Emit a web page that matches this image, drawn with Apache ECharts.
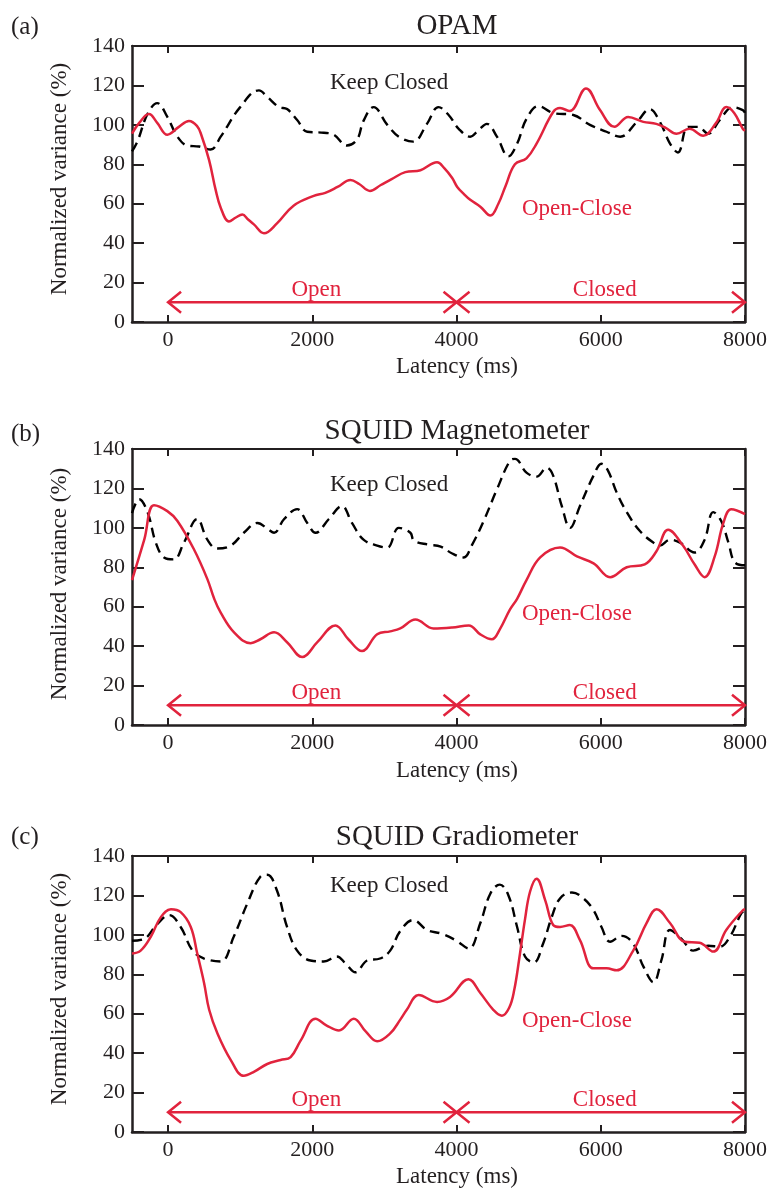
<!DOCTYPE html>
<html>
<head>
<meta charset="utf-8">
<script src="https://cdn.jsdelivr.net/npm/echarts@6/dist/echarts.min.js"></script>
<style>
html,body{margin:0;padding:0;background:#fff;}
#chart{width:772px;height:1189px;}
</style>
</head>
<body>
<div id="chart"></div>
<script>
// ---------- data ----------
const panelLabels = ['(a)', '(b)', '(c)'];
const panelTitles = ['OPAM', 'SQUID Magnetometer', 'SQUID Gradiometer'];
const xTickValues = [0, 2000, 4000, 6000, 8000];
const xAxisName = 'Latency (ms)';
const yAxisName = 'Normalized variance (%)';
const keepLabel = 'Keep Closed';
const diffLabel = 'Open-Close';
const arrowStarts = [0, 4000];
const arrowEnds = [4000, 8000];
const arrowLabels = ['Open', 'Closed'];
const arrowLevel = 10;

// (a) OPAM
const opamKeepClosed = [[-500,86.5],[-420,92],[-285,105.5],[-150,111],[-10,104],[130,94],[270,89.5],[430,89],[590,87.5],[730,94],[1000,109],[1260,117.5],[1380,114],[1540,109],[1650,108],[1790,102.5],[1930,96.5],[2160,96],[2300,95],[2480,89.5],[2620,92.5],[2710,102],[2850,109],[3040,100],[3200,94],[3400,91.5],[3590,100.5],[3750,109],[3890,105],[4030,98],[4190,94],[4310,97.5],[4420,100.5],[4560,94],[4720,84],[4840,90.5],[4970,103],[5135,109.5],[5340,106],[5620,105],[5850,100],[6080,96.5],[6270,94],[6500,101.5],[6680,108],[6820,101.5],[6960,90.5],[7070,86],[7210,99],[7350,99],[7490,95.5],[7650,102.5],[7830,109],[7970,107.5],[8000,106]];
const opamOpenClose = [[-500,95.5],[-400,101],[-265,105.5],[-150,101],[-10,95],[150,99],[290,102],[400,99.5],[460,95],[570,82],[660,67],[730,58],[845,51],[940,53],[1030,54.5],[1110,52],[1190,49.5],[1330,45],[1510,50],[1740,59],[2020,64],[2180,65.5],[2350,68.5],[2530,72],[2650,70],[2800,66.5],[2950,69.5],[3100,72.5],[3290,76],[3500,77],[3730,81],[3830,78],[3940,73],[4010,68.5],[4100,65],[4190,62],[4330,58.5],[4470,54],[4580,60],[4680,69],[4810,80],[4970,83],[5110,90.5],[5340,106.5],[5435,108.5],[5570,107],[5795,118.5],[5990,107.5],[6190,99],[6380,104],[6590,101.5],[6770,100.5],[6900,98.5],[7050,95.5],[7230,98],[7420,94.5],[7600,101],[7740,109],[7850,106],[7970,98],[8000,97]];

// (b) SQUID Magnetometer
const magKeepClosed = [[-500,107.5],[-400,114.5],[-285,108],[-170,92.5],[-55,85],[80,84],[220,92.5],[405,104.5],[545,94],[680,89.5],[870,91],[1050,97.5],[1240,102.5],[1380,99.5],[1470,97.5],[1610,104.5],[1790,109.5],[1930,102.5],[2045,97.5],[2230,104.5],[2410,111],[2550,102.5],[2710,94],[2900,91],[3040,90],[3200,100],[3360,97.5],[3410,93.5],[3610,91.5],[3780,90.5],[3940,87],[4100,85],[4210,91],[4370,103],[4560,119.5],[4740,134],[4810,135],[4970,128],[5110,126],[5250,130.5],[5340,126.5],[5460,111],[5575,100],[5710,111],[5900,126.5],[6010,132.5],[6100,129],[6220,118],[6360,108],[6540,98.5],[6730,92.5],[6820,91],[6960,94],[7100,92.5],[7300,87.5],[7440,94],[7560,108],[7670,103.5],[7770,92.5],[7860,82.5],[8000,81]];
const magOpenClose = [[-500,73.5],[-330,94],[-195,111.5],[-10,108.5],[130,103.5],[360,89],[545,74],[640,64],[730,57],[915,47],[1145,41.5],[1280,43.5],[1470,47],[1650,42],[1860,34.5],[2070,42],[2320,50.5],[2500,43.5],[2690,37.5],[2900,46],[3080,47.5],[3220,49],[3430,53.5],[3680,49],[3940,49.5],[4170,50.5],[4330,46],[4490,43.5],[4600,48.5],[4740,58.5],[4840,64],[4970,73.5],[5160,85],[5435,90],[5670,85.5],[5900,82],[6130,75],[6360,80],[6610,81.5],[6770,88],[6935,99],[7140,91],[7300,81.5],[7440,75],[7580,85.5],[7700,102.5],[7810,109.5],[8000,107]];

// (c) SQUID Gradiometer
const gradKeepClosed = [[-500,97],[-330,98],[-150,105.5],[15,110],[175,104],[340,92],[500,88],[730,86.5],[910,99],[1100,116],[1280,129.5],[1375,130.5],[1510,122.5],[1650,104],[1790,92],[1975,87],[2160,86.5],[2340,89],[2460,85.5],[2600,81],[2760,87],[2940,88],[3080,92],[3220,102],[3400,107.5],[3590,102.5],[3800,100.5],[4000,97],[4170,93],[4330,106],[4470,121],[4600,125.5],[4720,120],[4840,104],[4950,89],[5070,86],[5200,95.5],[5320,109],[5435,118.5],[5600,121.5],[5760,118.5],[5900,112.5],[6010,104],[6130,96.5],[6290,99.5],[6450,95.5],[6590,84],[6730,76],[6840,87],[6960,102.5],[7120,98],[7280,92],[7490,94.5],[7650,94],[7790,99],[7950,111],[8000,112]];
const gradOpenClose = [[-500,90.5],[-380,92],[-240,99],[-100,109],[40,113],[175,111.5],[315,104],[405,90.5],[500,75.5],[570,62],[685,50],[870,36.5],[1050,28.5],[1190,30.5],[1375,34.5],[1560,36.5],[1700,38],[1840,46.5],[2045,57.5],[2200,54],[2370,51.5],[2575,57.5],[2740,51],[2900,46],[3080,50],[3220,57],[3310,62],[3475,69.5],[3730,66],[3910,68.5],[4165,77.5],[4330,70.5],[4510,62],[4630,59],[4730,63],[4800,72],[4870,88],[4950,108],[5020,122],[5110,128.5],[5230,117.5],[5340,105],[5435,104],[5570,105],[5710,97.5],[5900,83],[6080,83],[6220,82],[6450,92],[6635,106],[6775,113],[6960,106],[7165,96.5],[7370,96],[7560,91.5],[7740,102.5],[7970,112.5],[8000,113]];

const keepSeries = [opamKeepClosed, magKeepClosed, gradKeepClosed];
const diffSeries = [opamOpenClose, magOpenClose, gradOpenClose];

// ---------- styling / layout ----------
const RED = '#E1233D';
const INK = '#231F20';
const FONT = '"Liberation Serif", "Times New Roman", serif';
const gridTops = [46, 449, 856];
const gridH = 276;
const gridLeft = 132, gridW = 613;
const titleY = [26, 431, 837];
const labelY = [27, 434, 837];
const xNameY = [367, 771, 1177];
const yNameY = [179, 584, 989];
const keepPos = [[330, 83], [330, 485], [330, 886]];
const diffPos = [[522, 209], [522, 614], [522, 1021]];

const grids = [], xAxes = [], yAxes = [], series = [], graphics = [];

for (let i = 0; i < 3; i++) {
  grids.push({left: gridLeft, top: gridTops[i], width: gridW, height: gridH});
  const xb = {
    type: 'value', gridIndex: i, min: -500, max: 8000, position: 'bottom',
    axisLine: {show: true, onZero: false, lineStyle: {color: INK, width: 2.5}},
    axisTick: {show: true, inside: true, length: 7, customValues: xTickValues, lineStyle: {color: INK, width: 2}},
    axisLabel: {show: true, customValues: xTickValues, margin: 7, color: INK, fontSize: 22, fontFamily: FONT,
      formatter: v => String(v)},
    splitLine: {show: false}
  };
  const xt = {
    type: 'value', gridIndex: i, min: -500, max: 8000, position: 'top',
    axisLine: {show: true, onZero: false, lineStyle: {color: INK, width: 2}},
    axisTick: {show: true, inside: true, length: 7, customValues: xTickValues, lineStyle: {color: INK, width: 2}},
    axisLabel: {show: false},
    splitLine: {show: false}
  };
  xAxes.push(xb, xt);
  const yl = {
    type: 'value', gridIndex: i, min: 0, max: 140, interval: 20, position: 'left',
    axisLine: {show: true, onZero: false, lineStyle: {color: INK, width: 2.5}},
    axisTick: {show: true, inside: true, length: 12, lineStyle: {color: INK, width: 2}},
    axisLabel: {show: true, margin: 7, color: INK, fontSize: 22, fontFamily: FONT},
    splitLine: {show: false}
  };
  const yr = {
    type: 'value', gridIndex: i, min: 0, max: 140, interval: 20, position: 'right',
    axisLine: {show: true, onZero: false, lineStyle: {color: INK, width: 2.5}},
    axisTick: {show: true, inside: true, length: 12, lineStyle: {color: INK, width: 2}},
    axisLabel: {show: false},
    splitLine: {show: false}
  };
  yAxes.push(yl, yr);

  series.push({
    type: 'line', xAxisIndex: 2 * i, yAxisIndex: 2 * i, data: keepSeries[i],
    smooth: 0.4, symbol: 'none', silent: true,
    lineStyle: {color: '#000', width: 2.4, type: [10, 6]}, z: 3
  });
  series.push({
    type: 'line', xAxisIndex: 2 * i, yAxisIndex: 2 * i, data: diffSeries[i],
    smooth: 0.4, symbol: 'none', silent: true,
    lineStyle: {color: RED, width: 2.5}, z: 4
  });
  series.push({
    type: 'custom', xAxisIndex: 2 * i, yAxisIndex: 2 * i, clip: false, silent: true, z: 5,
    data: arrowStarts.map((s, k) => [s, arrowEnds[k], arrowLevel]),
    encode: {x: [0, 1], y: 2},
    renderItem: function (params, api) {
      const p0 = api.coord([api.value(0), api.value(2)]);
      const p1 = api.coord([api.value(1), api.value(2)]);
      const ax = 13, ay = 10.5;
      const st = {stroke: RED, lineWidth: 2.5, fill: null};
      return {
        type: 'group', children: [
          {type: 'line', shape: {x1: p0[0], y1: p0[1], x2: p1[0], y2: p1[1]}, style: st},
          {type: 'polyline', shape: {points: [[p0[0] + ax, p0[1] - ay], [p0[0], p0[1]], [p0[0] + ax, p0[1] + ay]]}, style: st},
          {type: 'polyline', shape: {points: [[p1[0] - ax, p1[1] - ay], [p1[0], p1[1]], [p1[0] - ax, p1[1] + ay]]}, style: st},
          {type: 'text', x: (p0[0] + p1[0]) / 2 + 4, y: p0[1] - 12,
            style: {text: arrowLabels[params.dataIndex], font: '23px ' + FONT, fill: RED, align: 'center', verticalAlign: 'middle'}}
        ]
      };
    }
  });

  graphics.push(
    {type: 'text', x: 11, y: labelY[i], style: {text: panelLabels[i], font: '25px ' + FONT, fill: INK, align: 'left', verticalAlign: 'middle'}},
    {type: 'text', x: 457, y: titleY[i], style: {text: panelTitles[i], font: '29px ' + FONT, fill: INK, align: 'center', verticalAlign: 'middle'}},
    {type: 'text', x: 457, y: xNameY[i], style: {text: xAxisName, font: '23px ' + FONT, fill: INK, align: 'center', verticalAlign: 'middle'}},
    {type: 'text', x: 60, y: yNameY[i], rotation: Math.PI / 2, style: {text: yAxisName, font: '23px ' + FONT, fill: INK, align: 'center', verticalAlign: 'middle'}},
    {type: 'text', x: keepPos[i][0], y: keepPos[i][1], style: {text: keepLabel, font: '23px ' + FONT, fill: INK, align: 'left', verticalAlign: 'middle'}},
    {type: 'text', x: diffPos[i][0], y: diffPos[i][1], style: {text: diffLabel, font: '23px ' + FONT, fill: RED, align: 'left', verticalAlign: 'middle'}}
  );
}

const chart = echarts.init(document.getElementById('chart'), null, {renderer: 'canvas'});
chart.setOption({
  animation: false,
  backgroundColor: '#fff',
  grid: grids,
  xAxis: xAxes,
  yAxis: yAxes,
  series: series,
  graphic: graphics
});
</script>
</body>
</html>
